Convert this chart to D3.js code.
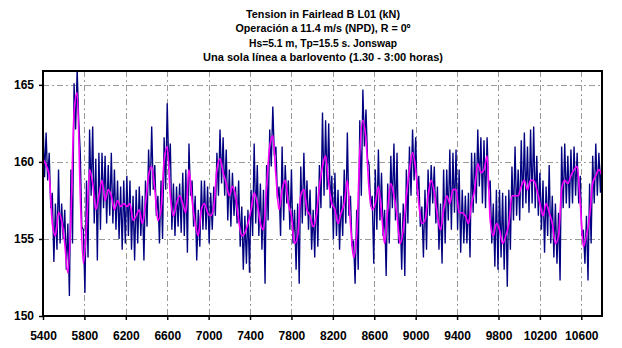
<!DOCTYPE html>
<html><head><meta charset="utf-8">
<script src="https://cdn.jsdelivr.net/npm/d3@7"></script>
<style>
body{margin:0;background:#fff}
svg{display:block}
text{font-family:"Liberation Sans",Arial,sans-serif;font-weight:bold;fill:#000}
</style>
</head><body>
<svg id="chart" width="622" height="348"></svg>
<script>
const titleLines = [
  "Tension in Fairlead B L01 (kN)",
  "Operación a 11.4 m/s (NPD), R = 0º",
  "Hs=5.1 m, Tp=15.5 s. Jonswap",
  "Una sola línea a barlovento (1.30 - 3:00 horas)"
];
const xTicks = [5400,5800,6200,6600,7000,7400,7800,8200,8600,9000,9400,9800,10200,10600];
const yTicks = [150,155,160,165];
const tStart = 5400, tStep = 30;

// smoothed (magenta) series, every 30 s
const magenta = [
160.2,159.8,159.1,156.0,155.2,156.7,156.2,154.7,152.8,156.5,163.2,164.5,157.8,153.4,155.8,159.5,158.6,156.9,157.8,158.8,157.5,158.2,157.8,156.9,157.5,157.1,157.3,157.1,157.3,156.2,156.5,156.9,156.0,157.3,159.1,159.7,158.2,156.2,156.9,160.1,161.0,157.8,156.5,157.3,157.8,
157.3,156.7,159.5,157.5,156.0,155.2,156.9,157.3,156.7,156.5,157.1,159.5,160.2,159.3,158.6,157.8,158.4,157.8,156.2,155.2,155.4,156.0,156.9,158.0,157.3,156.0,155.6,158.4,161.0,161.7,159.1,156.9,158.2,158.8,157.3,156.5,154.7,155.2,157.8,158.2,156.9,156.5,155.8,156.5,158.4,
159.7,160.4,158.6,157.3,156.9,156.0,156.7,157.3,158.8,156.0,153.8,155.2,160.6,162.7,161.4,158.2,156.9,157.3,158.4,156.7,154.7,156.9,158.6,157.8,156.5,154.7,155.6,157.8,159.5,160.6,159.5,157.3,156.0,156.2,157.8,158.8,158.0,156.5,155.6,156.9,157.8,157.3,158.2,158.2,156.7,
156.7,156.5,156.0,157.3,158.2,159.9,159.3,159.5,160.4,156.2,155.2,156.0,155.6,154.7,155.2,156.0,157.8,157.8,157.8,158.4,158.8,158.2,158.8,158.8,158.2,157.3,156.5,157.3,156.7,156.0,154.7,155.2,158.2,158.8,158.6,159.1,159.5,159.7,157.3,154.5,155.2,156.5,158.6,159.1,159.5,159.1
];
// raw (navy) series: local maxima at t, local minima at t + 15
const navyPeaks = [
162.7,161.9,160.6,158.0,157.3,159.5,157.3,156.9,156.0,159.5,165.1,166.0,160.6,155.6,158.8,162.1,162.3,160.2,160.6,160.6,160.4,159.8,160.6,159.5,158.8,158.4,158.8,159.1,158.8,157.8,158.2,158.4,157.8,158.8,160.8,162.3,159.8,157.8,158.8,161.6,163.8,161.2,158.6,158.4,158.6,
159.3,159.5,161.2,158.8,157.8,156.9,158.8,158.8,158.4,158.0,158.4,160.6,162.1,161.6,160.8,159.5,159.3,158.4,158.8,157.1,156.5,156.9,158.2,161.2,159.8,158.6,158.2,159.8,162.1,163.6,161.0,158.4,161.0,159.8,158.8,159.5,156.9,157.3,159.7,160.6,158.8,158.2,156.9,158.4,159.8,
163.2,162.7,162.5,159.1,159.3,158.2,157.8,159.5,161.9,157.8,154.9,156.9,162.7,164.7,163.4,159.8,157.8,159.5,160.8,159.3,156.9,158.6,160.4,161.2,160.6,156.7,157.3,159.5,161.0,162.1,161.6,159.1,157.1,158.2,159.5,159.8,159.7,158.4,157.3,159.5,159.5,160.8,160.6,160.8,159.5,
158.2,157.8,158.0,160.6,160.6,162.1,161.6,161.4,161.6,158.8,157.3,158.2,158.2,158.0,157.8,158.2,159.7,161.0,159.5,161.4,161.9,161.0,162.1,162.3,160.4,159.3,158.8,158.4,159.8,157.8,157.3,156.7,161.0,161.2,160.4,160.8,161.0,160.6,159.1,155.6,156.5,158.6,160.4,161.2,160.6,160.6
];
const navyTroughs = [
159.0,158.8,157.0,153.5,154.3,154.7,155.0,153.0,151.3,154.7,162.1,162.7,155.8,151.5,153.8,157.8,156.0,153.6,155.6,157.0,156.0,156.5,156.0,155.6,155.0,154.3,154.7,155.2,154.3,153.6,154.7,155.2,153.6,155.8,157.8,158.2,156.5,154.7,155.0,158.2,159.5,155.6,155.2,155.8,155.4,
155.2,154.1,157.8,155.8,153.6,154.5,155.6,155.6,154.7,155.6,156.5,157.8,158.6,157.8,156.2,155.8,156.5,156.0,154.5,153.0,153.4,152.8,155.2,156.0,155.2,154.3,152.1,156.2,159.7,160.4,157.6,155.2,156.2,157.3,155.6,154.7,153.0,152.1,156.0,156.5,155.6,154.3,153.8,154.5,157.0,
157.8,158.2,157.0,155.0,155.2,154.3,155.2,156.0,156.5,154.5,152.1,153.0,157.8,161.0,160.2,157.1,153.4,155.6,156.2,155.2,152.6,154.7,157.0,156.2,154.7,153.0,152.6,156.0,157.8,158.8,157.8,155.8,153.8,154.3,156.5,157.3,156.0,154.3,153.4,154.7,156.2,155.6,156.7,155.6,154.1,
154.7,154.7,153.8,156.7,157.3,158.4,157.3,157.0,158.2,154.7,153.2,153.0,153.8,153.0,151.9,154.3,156.2,156.5,156.2,157.0,157.3,156.7,157.3,157.0,156.5,155.6,154.1,155.2,154.7,153.8,153.4,152.3,157.0,157.3,157.0,157.3,157.8,157.3,155.2,153.4,152.3,154.7,157.3,157.8,158.0
];

const svg = d3.select("#chart");
const L = 43, R = 602, T = 71, B = 316;
const x = d3.scaleLinear().domain([5400, 10800]).range([L, R]);
const y = d3.scaleLinear().domain([150, 165.9]).range([B, T]);

// title
svg.append("g").selectAll("text").data(titleLines).join("text")
  .attr("x", 323).attr("y", (d, i) => [18, 32, 47, 61][i])
  .attr("text-anchor", "middle").attr("font-size", 11)
  .attr("textLength", (d, i) => [154, 175, 148, 240][i])
  .attr("lengthAdjust", "spacingAndGlyphs")
  .text(d => d);

// grid
const grid = svg.append("g").attr("stroke", "#9a9a9a").attr("stroke-width", 1).attr("stroke-dasharray", "6,3,2,3");
grid.selectAll("line.v").data(xTicks.filter(t => t > 5400)).join("line")
  .attr("x1", d => Math.round(x(d)) + 0.5).attr("x2", d => Math.round(x(d)) + 0.5)
  .attr("y1", T).attr("y2", B);
grid.selectAll("line.h").data(yTicks.filter(t => t > 150)).join("line")
  .attr("y1", d => Math.round(y(d)) + 0.5).attr("y2", d => Math.round(y(d)) + 0.5)
  .attr("x1", L).attr("x2", R);

// data
svg.append("defs").append("clipPath").attr("id", "clip")
  .append("rect").attr("x", L).attr("y", T).attr("width", R - L).attr("height", B - T);

const navy = [];
navyPeaks.forEach((v, i) => {
  navy.push({t: tStart + i * tStep, v});
  if (i < navyTroughs.length) navy.push({t: tStart + i * tStep + tStep / 2, v: navyTroughs[i]});
});
const mag = magenta.map((v, i) => ({t: tStart + i * tStep, v}));
const line = d3.line().x(d => x(d.t)).y(d => y(d.v));
const dg = svg.append("g").attr("clip-path", "url(#clip)");
dg.append("path").datum(navy).attr("d", line).attr("fill", "none")
  .attr("stroke", "#000080").attr("stroke-width", 1.35);
dg.append("path").datum(mag).attr("d", line.curve(d3.curveMonotoneX)).attr("fill", "none")
  .attr("stroke", "#ff00ff").attr("stroke-width", 1.6);

// axes
const xAxis = d3.axisBottom(x).tickValues(xTicks).tickSize(4).tickPadding(5).tickFormat(d3.format("d"));
const yAxis = d3.axisLeft(y).tickValues(yTicks).tickSize(4).tickPadding(5).tickFormat(d3.format("d"));
const gx = svg.append("g").attr("transform", `translate(0,${B})`).call(xAxis);
const gy = svg.append("g").attr("transform", `translate(${L},0)`).call(yAxis);
[gx, gy].forEach(g => {
  g.select(".domain").remove();
  g.selectAll(".tick line").attr("stroke", "#000").attr("stroke-width", 1.5);
  g.selectAll("text").attr("font-size", 12).attr("font-family", "'Liberation Sans',Arial,sans-serif").attr("font-weight", "bold");
});
gx.selectAll("text").attr("y", 15).attr("dy", "0.71em");

// frame
svg.append("rect").attr("x", L).attr("y", T).attr("width", R - L).attr("height", B - T)
  .attr("fill", "none").attr("stroke", "#000").attr("stroke-width", 2);
</script>
</body></html>
